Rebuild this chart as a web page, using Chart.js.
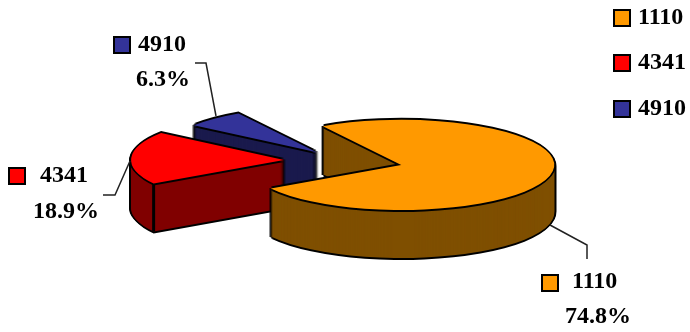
<!DOCTYPE html>
<html>
<head>
<meta charset="utf-8">
<style>
  html, body { margin: 0; padding: 0; background: #fff; }
  #wrap { width: 690px; height: 332px; }
</style>
<script src="https://cdn.jsdelivr.net/npm/chart.js@4"></script>
</head>
<body>
<div id="wrap"><canvas id="myChart"></canvas></div>
<script>
var categories = ['1110', '4341', '4910'];
var shares = [74.8, 18.9, 6.3];
var colors = ['#ff9900', '#ff0000', '#333399'];
var wallColors = ['#7f4f00', '#800000', '#1a1a4d'];
// how far each slice is pulled out of the pie, px
var explode = [60, 59, 39];

var font = 'bold 24px "Liberation Serif", "Times New Roman", serif';

// tilted pie settings
var pieX = 343, pieY = 160.7, tilt = 0.295, depth = 48;

// swatch + name + percent next to the slices
var callouts = [
  { box: [541, 274], name: [572, 282], pct: [565, 317], line: [[550, 225], [587, 245], [587, 259]] },
  { box: [8, 167], name: [40, 176], pct: [33, 212], line: [[130, 161], [115, 195], [103, 195]] },
  { box: [113, 36], name: [138, 45], pct: [136, 80], line: [[216, 116], [206, 63], [195, 63]] }
];
var legendRows = [[613, 9, 638, 18], [613, 54, 638, 63], [613, 100, 638, 109]];

function stamp(chart, ctx, i, dx, dy, color) {
  var arc = chart.getDatasetMeta(0).data[i];
  var mid = (arc.startAngle + arc.endAngle) / 2;
  var keepOpts = arc.options;
  arc.options = Object.assign({}, keepOpts, { backgroundColor: color, borderWidth: 0 });
  ctx.save();
  ctx.translate(pieX + dx, pieY + dy);
  ctx.scale(1, tilt);
  ctx.translate(Math.cos(mid) * explode[i], Math.sin(mid) * explode[i]);
  ctx.translate(-arc.x, -arc.y);
  arc.draw(ctx);
  ctx.restore();
  arc.options = keepOpts;
}

function outline(chart, ctx, i, dy) {
  stamp(chart, ctx, i, -2, dy, '#000');
  stamp(chart, ctx, i, 2, dy, '#000');
  stamp(chart, ctx, i, 0, dy - 2, '#000');
  stamp(chart, ctx, i, 0, dy + 2, '#000');
}

function swatch(ctx, x, y, color) {
  ctx.fillStyle = color;
  ctx.strokeStyle = '#000';
  ctx.lineWidth = 2;
  ctx.fillRect(x + 1, y + 1, 16, 16);
  ctx.strokeRect(x + 1, y + 1, 16, 16);
}

var tiltedPie = {
  id: 'tiltedPie',
  beforeDatasetDraw: function (chart) {
    var ctx = chart.ctx;
    var arcs = chart.getDatasetMeta(0).data;
    // back slices first so the big one ends up in front
    for (var i = arcs.length - 1; i >= 0; i--) {
      var d;
      for (d = depth; d > 0; d -= 1) outline(chart, ctx, i, d);
      for (d = depth; d > 0; d -= 1) stamp(chart, ctx, i, 0, d, wallColors[i]);
      // front corner line of the wall
      var a = arcs[i];
      if (Math.sin(a.startAngle) > 0 && i > 0) {
        var mid = (a.startAngle + a.endAngle) / 2;
        var px = pieX + Math.cos(mid) * explode[i] + Math.cos(a.startAngle) * a.outerRadius;
        var py = pieY + (Math.sin(mid) * explode[i] + Math.sin(a.startAngle) * a.outerRadius) * tilt;
        ctx.strokeStyle = '#000';
        ctx.lineWidth = 3;
        ctx.beginPath();
        ctx.moveTo(px, py);
        ctx.lineTo(px, py + depth);
        ctx.stroke();
      }
      outline(chart, ctx, i, 0);
      stamp(chart, ctx, i, 0, 0, colors[i]);
    }
    return false;
  },
  afterDraw: function (chart) {
    var ctx = chart.ctx;
    ctx.font = font;
    ctx.textAlign = 'left';
    ctx.textBaseline = 'middle';
    categories.forEach(function (name, i) {
      var c = callouts[i], r = legendRows[i];
      ctx.strokeStyle = '#222';
      ctx.lineWidth = 1.5;
      ctx.beginPath();
      c.line.forEach(function (p, k) { if (k) ctx.lineTo(p[0], p[1]); else ctx.moveTo(p[0], p[1]); });
      ctx.stroke();
      swatch(ctx, c.box[0], c.box[1], colors[i]);
      swatch(ctx, r[0], r[1], colors[i]);
      ctx.fillStyle = '#000';
      ctx.fillText(name, c.name[0], c.name[1]);
      ctx.fillText(shares[i].toFixed(1) + '%', c.pct[0], c.pct[1]);
      ctx.fillText(name, r[2], r[3]);
    });
  }
};

var ctx = document.getElementById('myChart');
var myChart = new Chart(ctx, {
  type: 'pie',
  data: {
    labels: categories,
    datasets: [{
      data: shares,
      backgroundColor: colors,
      borderWidth: 0,
      radius: 153,
      clip: false
    }]
  },
  options: {
    responsive: true,
    maintainAspectRatio: false,
    animation: false,
    rotation: -30.8,
    plugins: { legend: { display: false }, tooltip: { enabled: false } }
  },
  plugins: [tiltedPie]
});
</script>
</body>
</html>
